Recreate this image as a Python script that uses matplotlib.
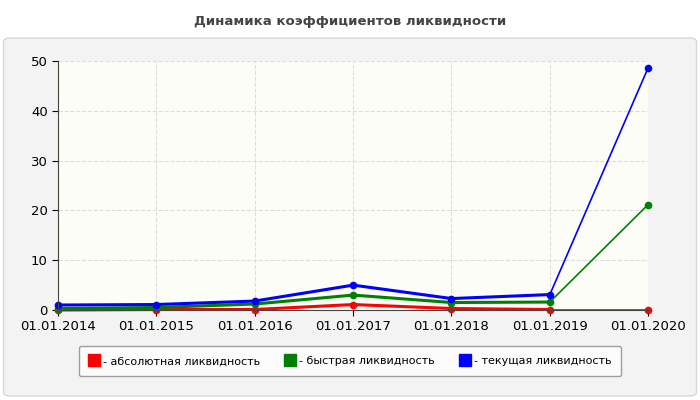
import matplotlib
matplotlib.use("Agg")
import matplotlib.pyplot as plt
from matplotlib.patches import FancyBboxPatch

dates = ["01.01.2014","01.01.2015","01.01.2016","01.01.2017","01.01.2018","01.01.2019","01.01.2020"]
absolute = [0.0, 0.1, 0.1, 1.1, 0.3, 0.1, 0.1]
quick = [0.3, 0.5, 1.2, 3.0, 1.5, 1.6, 21.2]
current = [1.0, 1.1, 1.8, 5.0, 2.3, 3.1, 48.7]
series = [("- абсолютная ликвидность", absolute, "#ff0000"),
          ("- быстрая ликвидность", quick, "#008000"),
          ("- текущая ликвидность", current, "#0000ff")]

fig = plt.figure(figsize=(7, 4), dpi=100)
fig.patch.set_facecolor("white")
bg = FancyBboxPatch((0.005, 0.01), 0.99, 0.895, boxstyle="round,pad=0,rounding_size=0.01",
                    transform=fig.transFigure, facecolor="#f3f3f3", edgecolor="#d8d8d8", lw=1, zorder=-10)
fig.patches.append(bg)
fig.text(0.5, 0.947, "Динамика коэффициентов ликвидности", ha="center", va="center",
         fontsize=9.5, fontweight="bold", color="#444444")
ax = fig.add_axes([0.083, 0.225, 0.843, 0.622])
ax.set_zorder(1)
ax.set_facecolor("#fdfdf8")
x = list(range(len(dates)))
for name, vals, c in series:
    ax.plot(x[:-1], vals[:-1], color=c, lw=2.2, clip_on=False)
    ax.plot(x[-2:], vals[-2:], color=c, lw=1.2, clip_on=False)
    ax.plot(x, vals, 'o', color=c, ms=4.5, clip_on=False)
ax.set_xlim(0, 6)
ax.set_ylim(0, 50)
ax.set_xticks(x)
ax.set_xticklabels(dates, fontsize=9)
ax.set_yticks([0, 10, 20, 30, 40, 50])
ax.tick_params(labelsize=9.5, length=4)
ax.grid(True, color="#dddddd", ls="--", lw=0.8)
for s in ["top", "right"]:
    ax.spines[s].set_visible(False)
for s in ["left", "bottom"]:
    ax.spines[s].set_color("#444444")
handles = [plt.Line2D([], [], color=c, lw=0, marker="s", ms=8) for _, _, c in series]
leg = fig.legend(handles, [s[0] for s in series], loc="center", bbox_to_anchor=(0.5, 0.097),
                 ncol=3, fontsize=8, frameon=True, handlelength=1.0, handletextpad=0.3,
                 columnspacing=2.2, borderpad=0.9)
leg.get_frame().set_edgecolor("#888888")
leg.get_frame().set_facecolor("white")
fig.savefig("out.png", dpi=100)
